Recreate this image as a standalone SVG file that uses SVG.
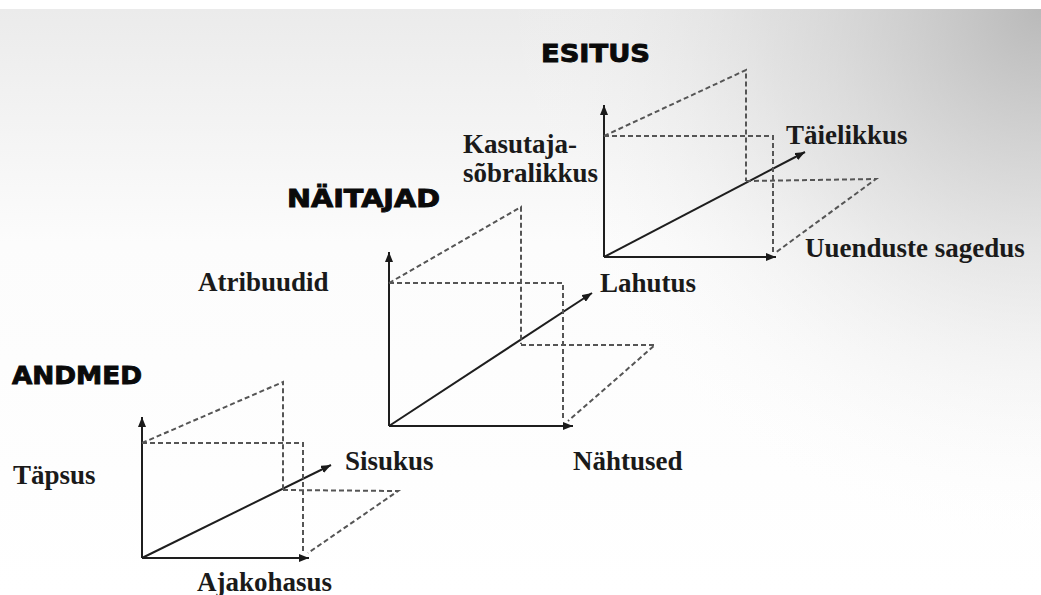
<svg xmlns="http://www.w3.org/2000/svg" width="1041" height="595" viewBox="0 0 1041 595">
<defs>
<linearGradient id="bgv" x1="0" y1="0" x2="0" y2="1">
<stop offset="0" stop-color="#ebebeb"/>
<stop offset="0.4" stop-color="#fcfcfc"/>
<stop offset="1" stop-color="#ffffff"/>
</linearGradient>
<radialGradient id="bgr" cx="1041" cy="9" r="540" gradientUnits="userSpaceOnUse">
<stop offset="0" stop-color="#b4b4b4" stop-opacity="0.9"/>
<stop offset="0.5" stop-color="#cccccc" stop-opacity="0.4"/>
<stop offset="1" stop-color="#ffffff" stop-opacity="0"/>
</radialGradient>
<marker id="arr" viewBox="0 0 10 8" refX="10" refY="4" markerWidth="10" markerHeight="8" markerUnits="userSpaceOnUse" orient="auto">
<path d="M0,0 L10,4 L0,8 z" fill="#1a1a1a"/>
</marker>
<style>
.ax{stroke:#1e1e1e;stroke-width:2;fill:none;marker-end:url(#arr)}
.ds{stroke:#555555;stroke-width:2;fill:none;stroke-dasharray:5 3}
.lbl{font-family:"Liberation Serif","Times New Roman",serif;font-weight:bold;font-size:27px;fill:#1a1a1a}
.ttl{font-family:"DejaVu Sans","Liberation Sans",sans-serif;font-weight:bold;font-size:24px;fill:#0a0a0a;stroke:#0a0a0a;stroke-width:0.9}
</style>
</defs>
<rect x="0" y="0" width="1041" height="595" fill="#ffffff"/>
<rect x="0" y="9" width="1041" height="586" fill="url(#bgv)"/>
<rect x="0" y="9" width="1041" height="586" fill="url(#bgr)"/>

<g id="connectors">
<!-- ANDMED -->
<line class="ax" x1="142" y1="558" x2="142" y2="417"/>
<line class="ax" x1="142" y1="558" x2="309" y2="558"/>
<line class="ax" x1="142" y1="558" x2="331" y2="465"/>
<polyline class="ds" points="142,443 283,382 283,490"/>
<polyline class="ds" points="142,443 303,443 303,552"/>
<polyline class="ds" points="283,490 398,491 308,553"/>
<!-- NÄITAJAD -->
<line class="ax" x1="389" y1="426" x2="389" y2="252"/>
<line class="ax" x1="389" y1="426" x2="573" y2="426"/>
<line class="ax" x1="389" y1="426" x2="592" y2="293"/>
<polyline class="ds" points="389,283 521,207 521,344"/>
<polyline class="ds" points="389,283 563,283 563,420"/>
<polyline class="ds" points="521,345 655,345 568,421"/>
<!-- ESITUS -->
<line class="ax" x1="604" y1="257" x2="604" y2="105"/>
<line class="ax" x1="604" y1="257" x2="776" y2="257"/>
<line class="ax" x1="604" y1="257" x2="805" y2="152"/>
<polyline class="ds" points="604,136 746,70 746,181"/>
<polyline class="ds" points="604,136 773,136 773,252"/>
<polyline class="ds" points="746,181 876,179 775,253"/>
</g>

<g id="andmed">
<text class="ttl" x="12" y="384" textLength="130" lengthAdjust="spacingAndGlyphs">ANDMED</text>
<text class="lbl" x="13" y="484">Täpsus</text>
<text class="lbl" x="345" y="470">Sisukus</text>
<text class="lbl" x="197" y="591">Ajakohasus</text>
</g>

<g id="naitajad">
<text class="ttl" x="287" y="207" textLength="153" lengthAdjust="spacingAndGlyphs">NÄITAJAD</text>
<text class="lbl" x="198" y="291">Atribuudid</text>
<text class="lbl" x="600" y="292">Lahutus</text>
<text class="lbl" x="573" y="470">Nähtused</text>
</g>

<g id="esitus">
<text class="ttl" x="541" y="62" textLength="109" lengthAdjust="spacingAndGlyphs">ESITUS</text>
<text class="lbl" x="463" y="153">Kasutaja-</text>
<text class="lbl" x="463" y="182">sõbralikkus</text>
<text class="lbl" x="786" y="144">Täielikkus</text>
<text class="lbl" x="805" y="257">Uuenduste sagedus</text>
</g>
</svg>
